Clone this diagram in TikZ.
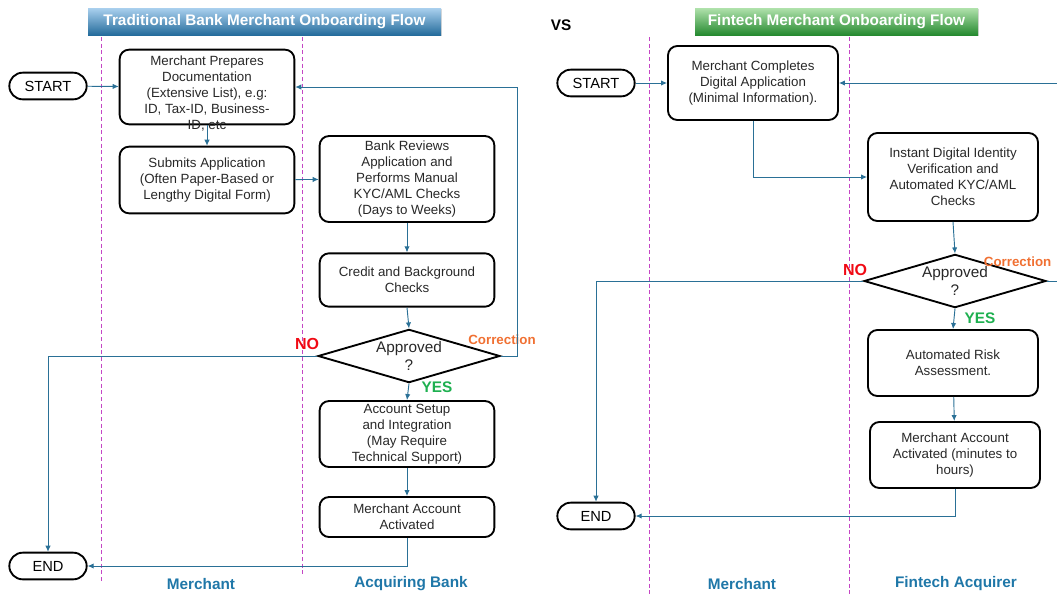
\documentclass[tikz,border=0pt]{standalone}
\usepackage{fontspec}
\setmainfont{Liberation Sans}
\usetikzlibrary{arrows.meta,shapes.geometric,positioning,shadows}

\definecolor{flowblue}{RGB}{42,112,150}
\definecolor{lanecol}{RGB}{196,70,196}
\definecolor{lanelab}{RGB}{31,119,168}
\definecolor{nored}{RGB}{240,10,20}
\definecolor{yesgreen}{RGB}{30,176,80}
\definecolor{corrorange}{RGB}{240,112,50}
\definecolor{boxtext}{RGB}{40,40,40}

\begin{document}
\begin{tikzpicture}[x=0.75pt,y=-0.75pt,>={Latex[length=4.5pt,width=4pt]},
    procbox/.style={rectangle,rounded corners=7pt,draw,line width=1.4pt,align=center,
      font=\fontsize{10}{12}\selectfont,text=boxtext,inner sep=2pt},
    proctext/.style={align=center,font=\fontsize{10}{12}\selectfont,text=boxtext,inner sep=0pt},
    termbox/.style={rectangle,rounded corners=10pt,draw,line width=1.4pt,minimum width=58pt,
      minimum height=20pt,font=\fontsize{11}{13}\selectfont,inner sep=0pt},
    decbox/.style={diamond,draw,line width=1.4pt,minimum width=136.5pt,minimum height=40pt,inner sep=0pt},
    dectext/.style={align=center,font=\fontsize{11.5}{14}\selectfont,text=boxtext,inner sep=0pt},
    banner/.style={rectangle,minimum height=20.25pt,text=white,font=\fontsize{11.5}{13}\bfseries,
      drop shadow={opacity=0.3,shadow xshift=1pt,shadow yshift=-1pt}},
    lanelabel/.style={text=lanelab,font=\fontsize{11.5}{13}\bfseries},
    laneline/.style={lanecol,line width=0.6pt,dash pattern=on 3pt off 2pt},
    flow/.style={->,flowblue,line width=0.7pt}
  ]
  \useasboundingbox (0,0) rectangle (1057,594);
  \clip (0,0) rectangle (1057,594);

  % banners
  \node[banner,minimum width=264.75pt,top color={rgb,255:red,170;green,208;blue,238},
    bottom color={rgb,255:red,36;green,108;blue,156}] (tradtitle) at (264.5,21.5)
    {Traditional Bank Merchant Onboarding Flow};
  \node[banner,minimum width=212.25pt,top color={rgb,255:red,176;green,226;blue,172},
    bottom color={rgb,255:red,38;green,138;blue,48}] (fintitle) at (836.5,21.5)
    {Fintech Merchant Onboarding Flow};
  \node[font=\fontsize{11.5}{13}\bfseries] (vs) at (561,25) {VS};

  % swim lanes
  \draw[laneline] (101,37) -- (101,583);
  \draw[laneline] (302,37) -- (302,575);
  \draw[laneline] (649,37) -- (649,594);
  \draw[laneline] (849,37) -- (849,594);
  \node[lanelabel] (lanemer1) at (201,584) {Merchant};
  \node[lanelabel] (lanebank) at (411,584) {Acquiring Bank};
  \node[lanelabel] (lanemer2) at (742,584) {Merchant};
  \node[lanelabel] (lanefin) at (956,584) {Fintech Acquirer};

  % traditional flow
  \node[termbox] (start1) at (48,86) {START};
  \node[procbox,minimum width=131pt,minimum height=56pt] (prep) at (207,87) {};
  \node[proctext] (preptxt) at (207,94) {Merchant Prepares\\Documentation\\(Extensive List), e.g:\\ID, Tax-ID, Business-\\ID, etc};
  \node[procbox,minimum width=131pt,minimum height=50pt] (submit) at (207,180)
    {Submits Application\\(Often Paper-Based or\\Lengthy Digital Form)};
  \node[procbox,minimum width=131pt,minimum height=64.5pt] (review) at (407,179)
    {Bank Reviews\\Application and\\Performs Manual\\KYC/AML Checks\\(Days to Weeks)};
  \node[procbox,minimum width=131pt,minimum height=40pt] (credit) at (407,280)
    {Credit and Background\\Checks};
  \node[decbox] (appr1) at (409,356) {};
  \node[dectext] (appr1txt) at (409,356) {Approved\\?};
  \node[procbox,minimum width=131pt,minimum height=49.5pt] (setup) at (407,434)
    {Account Setup\\and Integration\\(May Require\\Technical Support)};
  \node[procbox,minimum width=131pt,minimum height=30pt] (act1) at (407,517)
    {Merchant Account\\Activated};
  \node[termbox] (end1) at (48,566) {END};

  \node[text=nored,font=\fontsize{12}{14}\bfseries] (no1) at (307,344) {NO};
  \node[text=yesgreen,font=\fontsize{11.5}{13}\bfseries] (yes1) at (437,387) {YES};
  \node[text=corrorange,font=\fontsize{10}{12}\bfseries] (corr1) at (502,340) {Correction};

  \draw[flow] (start1) -- (prep);
  \draw[flow] (prep.south) -- (submit.north);
  \draw[flow] (submit) -- (review);
  \draw[flow] (review) -- (credit);
  \draw[flow] (credit.south) -- (appr1.north);
  \draw[flow] (appr1.south) -- (setup.north);
  \draw[flow] (setup) -- (act1);
  \draw[flow] (act1.south) |- (end1.east);
  \draw[flow] (appr1.west) -| (end1.north);
  \draw[flow] (appr1.east) -- ++(17,0) |- (prep.east);

  % fintech flow
  \node[termbox] (start2) at (596,83) {START};
  \node[procbox,minimum width=127.5pt,minimum height=55.5pt] (complete) at (753,83)
    {Merchant Completes\\Digital Application\\(Minimal Information).};
  \node[procbox,minimum width=127.5pt,minimum height=66pt] (ident) at (953,177)
    {Instant Digital Identity\\Verification and\\Automated KYC/AML\\Checks};
  \node[decbox] (appr2) at (955,281) {};
  \node[dectext] (appr2txt) at (955,281) {Approved\\?};
  \node[procbox,minimum width=127.5pt,minimum height=49.5pt] (risk) at (953,363)
    {Automated Risk\\Assessment.};
  \node[procbox,minimum width=127.5pt,minimum height=49.5pt] (acct) at (955,455)
    {Merchant Account\\Activated (minutes to\\hours)};
  \node[termbox] (end2) at (596,516) {END};

  \node[text=nored,font=\fontsize{12}{14}\bfseries] (no2) at (855,270) {NO};
  \node[text=yesgreen,font=\fontsize{11.5}{13}\bfseries] (yes2) at (980,318) {YES};
  \node[text=corrorange,font=\fontsize{10}{12}\bfseries,anchor=east] (corr2) at (1056,262) {Correction};

  \draw[flow] (start2) -- (complete);
  \draw[flow] (complete.south) |- (ident.west);
  \draw[flow] (ident.south) -- (appr2.north);
  \draw[flow] (appr2.south) -- (risk.north);
  \draw[flow] (risk) -- (acct);
  \draw[flow] (acct.south) |- (end2.east);
  \draw[flow] (appr2.west) -| (end2.north);
  \draw[flow] (appr2.east) -- ++(25,0) |- (complete.east);
\end{tikzpicture}
\end{document}
